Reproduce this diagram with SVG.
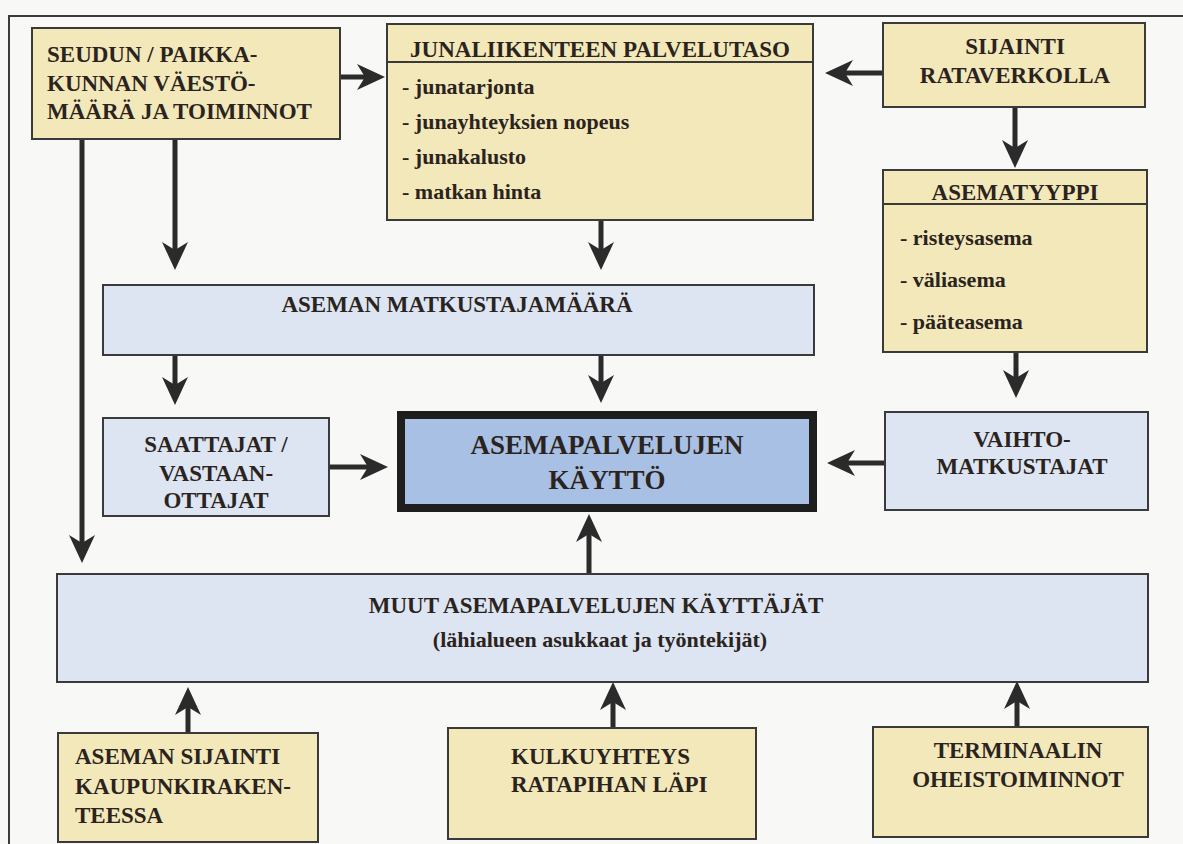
<svg xmlns="http://www.w3.org/2000/svg" width="1183" height="844" viewBox="0 0 1183 844">
<style>
.bg{fill:#f8f8f6}
.frame{fill:none;stroke:#3a3a3a;stroke-width:2}
.y{fill:#f2e8b9;stroke:#3a3a3a;stroke-width:2}
.b{fill:#dce5f1;stroke:#3a3a3a;stroke-width:2}
.c{fill:#a8c0e4;stroke:#1e1e1e;stroke-width:8}
.div{stroke:#3a3a3a;stroke-width:2}
text{font-family:"Liberation Serif","Times New Roman",serif;font-weight:bold;fill:#2b2320}
.h{font-size:23px}
.i{font-size:22px}
.big{font-size:27px}
.m{text-anchor:middle}
.con{fill:none;stroke:#2b2b2b;stroke-width:5;marker-end:url(#ah)}
</style>
<defs>
<marker id="ah" markerUnits="userSpaceOnUse" markerWidth="30" markerHeight="26" refX="8" refY="13" orient="auto">
<path d="M0,0 L28,13 L0,26 L8,13 Z" fill="#2b2b2b"/>
</marker>
</defs>
<rect class="bg" x="0" y="0" width="1183" height="844"/>
<path class="frame" d="M9,844 V16 H1183"/>

<g id="connectors">
<path class="con" d="M340,77 H365"/>
<path class="con" d="M883,73 H845"/>
<path class="con" d="M1015,107 V148"/>
<path class="con" d="M175,139 V250"/>
<path class="con" d="M601,220 V250"/>
<path class="con" d="M82,139 V543"/>
<path class="con" d="M175,355 V385"/>
<path class="con" d="M601,355 V383"/>
<path class="con" d="M329,467 H368"/>
<path class="con" d="M885,463 H847"/>
<path class="con" d="M1016,352 V378"/>
<path class="con" d="M589,574 V534"/>
<path class="con" d="M188,733 V707"/>
<path class="con" d="M613,728 V702"/>
<path class="con" d="M1017,727 V701"/>
</g>

<g id="seudun">
<rect class="y" x="32" y="28" width="308" height="111"/>
<text class="h" x="47" y="62">SEUDUN / PAIKKA-</text>
<text class="h" x="47" y="91">KUNNAN VÄESTÖ-</text>
<text class="h" x="47" y="119">MÄÄRÄ JA TOIMINNOT</text>
</g>

<g id="junaliikenne">
<rect class="y" x="387" y="24" width="426" height="196"/>
<line class="div" x1="387" y1="62" x2="813" y2="62"/>
<text class="h m" x="600" y="57">JUNALIIKENTEEN PALVELUTASO</text>
<text class="i" x="402" y="94">- junatarjonta</text>
<text class="i" x="402" y="129">- junayhteyksien nopeus</text>
<text class="i" x="402" y="164">- junakalusto</text>
<text class="i" x="402" y="199">- matkan hinta</text>
</g>

<g id="sijainti">
<rect class="y" x="883" y="23" width="262" height="84"/>
<text class="h m" x="1015" y="54">SIJAINTI</text>
<text class="h m" x="1015" y="83">RATAVERKOLLA</text>
</g>

<g id="asematyyppi">
<rect class="y" x="883" y="170" width="264" height="182"/>
<line class="div" x1="883" y1="204" x2="1147" y2="204"/>
<text class="h m" x="1015" y="200">ASEMATYYPPI</text>
<text class="i" x="900" y="245">- risteysasema</text>
<text class="i" x="900" y="287">- väliasema</text>
<text class="i" x="900" y="329">- pääteasema</text>
</g>

<g id="matkustajamaara">
<rect class="b" x="103" y="285" width="711" height="70"/>
<text class="h m" x="457" y="312">ASEMAN MATKUSTAJAMÄÄRÄ</text>
</g>

<g id="saattajat">
<rect class="b" x="103" y="418" width="226" height="98"/>
<text class="h m" x="216" y="452">SAATTAJAT /</text>
<text class="h m" x="216" y="481">VASTAAN-</text>
<text class="h m" x="216" y="508">OTTAJAT</text>
</g>

<g id="asemapalvelut">
<rect class="c" x="401" y="415" width="412" height="93"/>
<text class="big m" x="607" y="454">ASEMAPALVELUJEN</text>
<text class="big m" x="607" y="489">KÄYTTÖ</text>
</g>

<g id="vaihtomatkustajat">
<rect class="b" x="885" y="412" width="263" height="98"/>
<text class="h m" x="1022" y="447">VAIHTO-</text>
<text class="h m" x="1022" y="474">MATKUSTAJAT</text>
</g>

<g id="muut">
<rect class="b" x="57" y="574" width="1091" height="108"/>
<text class="h m" x="596" y="613">MUUT ASEMAPALVELUJEN KÄYTTÄJÄT</text>
<text class="i m" x="600" y="647">(lähialueen asukkaat ja työntekijät)</text>
</g>

<g id="aseman-sijainti">
<rect class="y" x="58" y="733" width="260" height="109"/>
<text class="h" x="75" y="764">ASEMAN SIJAINTI</text>
<text class="h" x="75" y="794">KAUPUNKIRAKEN-</text>
<text class="h" x="75" y="823">TEESSA</text>
</g>

<g id="kulkuyhteys">
<rect class="y" x="448" y="728" width="308" height="111"/>
<text class="h" x="511" y="764">KULKUYHTEYS</text>
<text class="h" x="511" y="792">RATAPIHAN LÄPI</text>
</g>

<g id="terminaali">
<rect class="y" x="873" y="727" width="275" height="110"/>
<text class="h m" x="1018" y="758">TERMINAALIN</text>
<text class="h m" x="1018" y="787">OHEISTOIMINNOT</text>
</g>
</svg>
